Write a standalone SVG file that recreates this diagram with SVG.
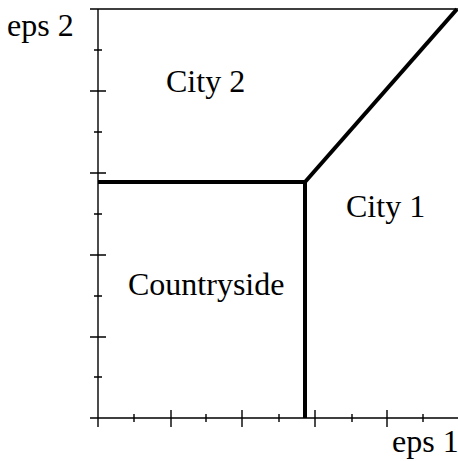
<svg xmlns="http://www.w3.org/2000/svg" width="458" height="461" viewBox="0 0 458 461">
<style>
.ax{stroke:#000;stroke-width:1.4;fill:none}
.bd{stroke:#000;stroke-width:4;fill:none;stroke-linejoin:miter}
text{font-family:"Liberation Serif","Times New Roman",serif;font-size:32px;fill:#000}
</style>
<rect width="458" height="461" fill="#fff"/>
<g id="axes" class="ax">
<path d="M98,9 V427 M90,418 H459 M90,9 H458"/>
<path d="M90,91 H106 M90,173 H106 M90,255 H106 M90,337 H106"/>
<path d="M94,50 H102 M94,132 H102 M94,214 H102 M94,296 H102 M94,377 H102"/>
<path d="M171,410 V427 M242,410 V427 M315,410 V427 M387,410 V427"/>
<path d="M134,414 V422 M206,414 V422 M279,414 V422 M352,414 V422 M423,414 V422"/>
</g>
<g id="connectors" class="bd">
<path d="M98,182 H305 V418"/>
<path d="M305,182 L457,9"/>
</g>
<g id="labels">
<text id="eps2" x="7" y="36">eps 2</text>
<text id="eps1" x="392" y="452">eps 1</text>
</g>
<g id="city2"><text x="166" y="92">City 2</text></g>
<g id="city1"><text x="346" y="217">City 1</text></g>
<g id="countryside"><text x="128" y="295">Countryside</text></g>
</svg>
